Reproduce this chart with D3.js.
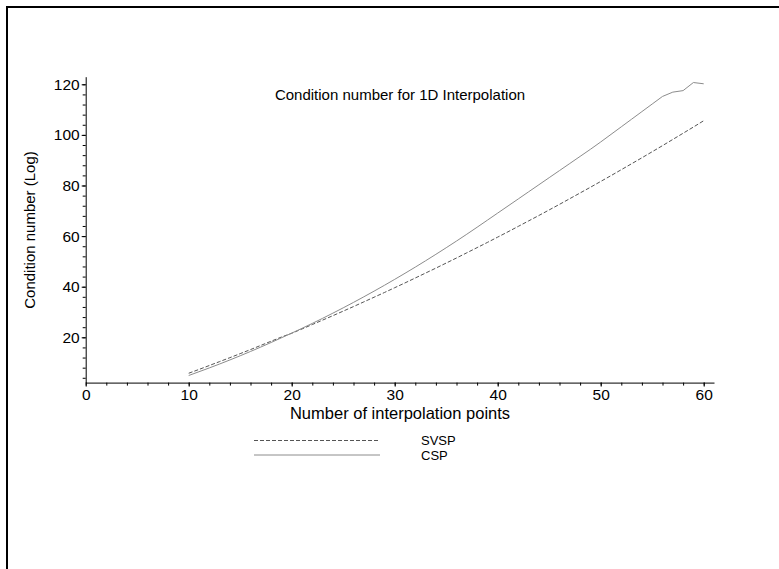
<!DOCTYPE html>
<html>
<head>
<meta charset="utf-8">
<script src="https://cdn.jsdelivr.net/npm/d3@7"></script>
<style>
  body { margin: 0; background: #fff; }
  svg { display: block; font-family: "Liberation Sans", Arial, sans-serif; }
  .axis text { font-size: 15.5px; fill: #000; }
</style>
</head>
<body>
<svg class="chart" width="779" height="569"></svg>
<script>
// number of interpolation points
const points = d3.range(10, 61);

// condition number (log) for each point count
const svsp = [5.8, 7.3, 8.85, 10.4, 11.95, 13.55, 15.15, 16.8, 18.45, 20.1,
  21.6, 23.3, 25.05, 26.8, 28.55, 30.35, 32.15, 34.0, 35.85, 37.7,
  39.6, 41.5, 43.45, 45.4, 47.35, 49.35, 51.35, 53.4, 55.45, 57.5,
  59.6, 61.7, 63.85, 66.0, 68.15, 70.35, 72.55, 74.8, 77.05, 79.3,
  81.6, 83.9, 86.25, 88.6, 90.95, 93.35, 95.75, 98.2, 100.65, 103.1, 105.6];

const csp = [4.9, 6.4, 7.9, 9.45, 11.05, 12.7, 14.4, 16.15, 17.95, 19.8,
  21.65, 23.55, 25.5, 27.5, 29.55, 31.65, 33.8, 36.0, 38.25, 40.55,
  42.9, 45.3, 47.75, 50.25, 52.8, 55.4, 58.05, 60.75, 63.5, 66.3,
  69.1, 71.9, 74.7, 77.5, 80.3, 83.1, 85.9, 88.7, 91.5, 94.3,
  97.2, 100.2, 103.2, 106.2, 109.2, 112.2, 115.2, 116.9, 117.5, 120.7, 120.2];

const xTicks = [0, 10, 20, 30, 40, 50, 60];
const yTicks = [20, 40, 60, 80, 100, 120];
const seriesNames = ["SVSP", "CSP"];

const svg = d3.select(".chart");

// frame (top and left edges only are visible)
svg.append("path")
  .attr("d", "M7,569 V7 H779")
  .attr("fill", "none")
  .attr("stroke", "#000")
  .attr("stroke-width", 2);

const xScale = d3.scaleLinear().domain([0, 61]).range([85.7, 714]);
const yScale = d3.scaleLinear().domain([2.1, 123]).range([382.6, 76.7]);

// minor ticks
svg.append("g")
  .attr("class", "axis")
  .attr("transform", `translate(0,${yScale(2.1)})`)
  .call(d3.axisBottom(xScale).tickValues(d3.range(0, 61, 2)).tickSize(3).tickSizeOuter(0).tickFormat(""))
  .call(g => g.select(".domain").remove());

svg.append("g")
  .attr("class", "axis")
  .attr("transform", `translate(${xScale(0)},0)`)
  .call(d3.axisLeft(yScale).tickValues(d3.range(4, 123, 4)).tickSize(3).tickSizeOuter(0).tickFormat(""))
  .call(g => g.select(".domain").remove());

// major axes
svg.append("g")
  .attr("class", "axis")
  .attr("transform", `translate(0,${yScale(2.1)})`)
  .call(d3.axisBottom(xScale).tickValues(xTicks).tickSize(4).tickSizeOuter(0).tickPadding(2));

svg.append("g")
  .attr("class", "axis")
  .attr("transform", `translate(${xScale(0)},0)`)
  .call(d3.axisLeft(yScale).tickValues(yTicks).tickSize(4).tickSizeOuter(0).tickPadding(2));

svg.selectAll(".axis .domain, .axis line").attr("stroke", "#000");

// lines
const line = (vals) => d3.line()
  .x((d, i) => xScale(points[i]))
  .y(d => yScale(d))(vals);

svg.append("path")
  .attr("d", line(svsp))
  .attr("fill", "none")
  .attr("stroke", "#555")
  .attr("stroke-width", 1)
  .attr("stroke-dasharray", "4,2");

svg.append("path")
  .attr("d", line(csp))
  .attr("fill", "none")
  .attr("stroke", "#8c8c8c")
  .attr("stroke-width", 1);

// titles
svg.append("text")
  .attr("x", 400)
  .attr("y", 100)
  .attr("text-anchor", "middle")
  .style("font-size", "15px")
  .text("Condition number for 1D Interpolation");

svg.append("text")
  .attr("x", 400)
  .attr("y", 419)
  .attr("text-anchor", "middle")
  .style("font-size", "16.5px")
  .text("Number of interpolation points");

svg.append("text")
  .attr("transform", "translate(35,230) rotate(-90)")
  .attr("text-anchor", "middle")
  .style("font-size", "15px")
  .text("Condition number (Log)");

// legend
const legend = svg.append("g");
const legendY = [440.5, 455];
seriesNames.forEach((name, i) => {
  legend.append("line")
    .attr("x1", 254).attr("x2", 380)
    .attr("y1", legendY[i]).attr("y2", legendY[i])
    .attr("stroke", i === 0 ? "#555" : "#8c8c8c")
    .attr("stroke-dasharray", i === 0 ? "4,2" : null);
  legend.append("text")
    .attr("x", 421)
    .attr("y", legendY[i] + 4.5)
    .style("font-size", "13px")
    .text(name);
});
</script>
</body>
</html>
